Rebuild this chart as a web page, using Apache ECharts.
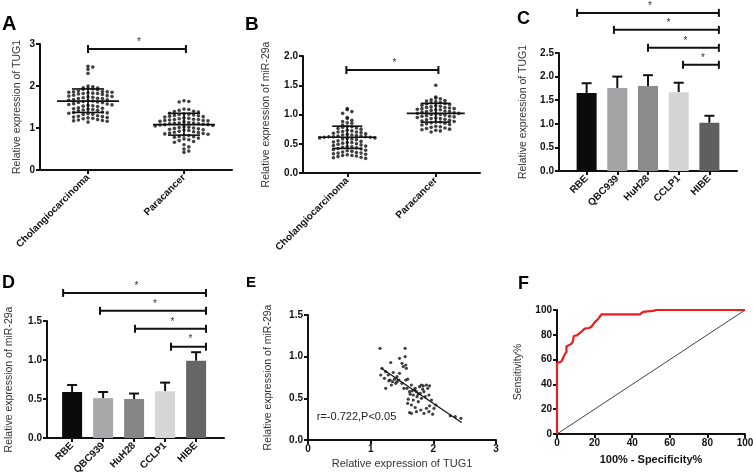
<!DOCTYPE html>
<html><head><meta charset="utf-8">
<script src="https://cdn.jsdelivr.net/npm/echarts@6/dist/echarts.min.js"></script>
<style>html,body{margin:0;padding:0;background:#fff}#c{width:753px;height:472px}</style>
</head><body><div id="c"></div>
<script>
// ---------- DATA ----------
const groupNames = ['Cholangiocarcinoma', 'Paracancer'];
const cellLines = ['RBE', 'QBC939', 'HuH28', 'CCLP1', 'HIBE'];

// Panel A: TUG1 expression (dot plot)
const aChol = [2.47,2.45,2.40,2.30,2.00,1.98,1.96,1.95,1.94,1.93,1.92,1.91,1.88,1.87,1.86,1.86,1.85,1.85,1.84,1.83,1.82,1.82,1.81,1.80,1.78,1.77,1.76,1.75,1.74,1.73,1.72,1.71,1.70,1.70,1.68,1.67,1.66,1.65,1.64,1.63,1.62,1.61,1.60,1.58,1.57,1.56,1.55,1.54,1.53,1.52,1.51,1.48,1.47,1.46,1.45,1.44,1.43,1.42,1.41,1.38,1.37,1.36,1.35,1.34,1.33,1.32,1.29,1.28,1.27,1.26,1.25,1.24,1.23,1.22,1.20,1.19,1.18,1.17,1.16,1.14];
const aPara = [1.65,1.63,1.62,1.45,1.44,1.42,1.40,1.39,1.38,1.35,1.34,1.33,1.32,1.31,1.30,1.29,1.28,1.27,1.26,1.24,1.23,1.22,1.21,1.20,1.20,1.19,1.18,1.18,1.17,1.16,1.15,1.13,1.12,1.12,1.11,1.10,1.10,1.09,1.08,1.08,1.07,1.06,1.05,1.03,1.02,1.01,1.00,0.99,0.98,0.97,0.96,0.95,0.94,0.92,0.91,0.90,0.89,0.88,0.87,0.86,0.85,0.83,0.82,0.80,0.79,0.78,0.76,0.74,0.72,0.70,0.68,0.66,0.60,0.55,0.50,0.45,0.42];
const aMean = [1.64, 1.08];
const aSdLo = [1.37, 0.83];
const aSdHi = [1.93, 1.35];

// Panel B: miR-29a expression (dot plot)
const bChol = [1.10,1.08,1.05,1.02,0.95,0.93,0.90,0.88,0.86,0.85,0.82,0.80,0.79,0.78,0.77,0.76,0.75,0.73,0.72,0.71,0.70,0.70,0.69,0.68,0.67,0.66,0.65,0.65,0.64,0.63,0.63,0.62,0.62,0.62,0.61,0.61,0.60,0.60,0.59,0.58,0.58,0.57,0.55,0.54,0.53,0.52,0.52,0.51,0.50,0.49,0.48,0.47,0.46,0.45,0.45,0.44,0.43,0.42,0.41,0.40,0.39,0.38,0.37,0.36,0.35,0.34,0.34,0.33,0.32,0.31,0.30,0.30,0.29,0.28,0.27,0.26,0.25];
const bPara = [1.50,1.30,1.28,1.27,1.25,1.24,1.23,1.22,1.21,1.20,1.19,1.18,1.17,1.16,1.15,1.14,1.13,1.12,1.12,1.11,1.10,1.10,1.09,1.08,1.08,1.07,1.06,1.05,1.05,1.04,1.03,1.02,1.02,1.01,1.00,1.00,0.99,0.98,0.97,0.97,0.96,0.95,0.94,0.93,0.93,0.92,0.91,0.90,0.89,0.88,0.87,0.87,0.86,0.85,0.84,0.83,0.82,0.80,0.79,0.78,0.77,0.76,0.75,0.74,0.73,0.72,0.70];
const bMean = [0.61, 1.02];
const bSdLo = [0.42, 0.87];
const bSdHi = [0.80, 1.19];

// Panel C: TUG1 in cell lines
const cMean = [1.65, 1.76, 1.80, 1.67, 1.02];
const cErr  = [1.86, 2.00, 2.03, 1.87, 1.17];
const cBrFrom = [-0.31, 0.89, 2.00, 3.14];
const cBrTo   = [4.31, 4.31, 4.31, 4.31];
const cBrY    = [3.35, 2.99, 2.61, 2.25];

// Panel D: miR-29a in cell lines
const dMean = [0.59, 0.51, 0.50, 0.60, 0.99];
const dErr  = [0.68, 0.59, 0.57, 0.71, 1.10];
const dBrFrom = [-0.29, 0.90, 2.03, 3.19];
const dBrTo   = [4.32, 4.32, 4.32, 4.32];
const dBrY    = [1.86, 1.63, 1.40, 1.17];

// Panel E: correlation TUG1 vs miR-29a
const eX = [1.15,1.55,1.55,1.46,1.32,1.50,1.56,1.57,1.18,1.16,1.24,1.28,1.22,1.31,1.38,1.42,1.46,1.35,1.24,1.33,1.42,1.50,1.56,1.59,1.53,1.45,1.40,1.29,1.36,1.52,1.65,1.71,1.62,1.68,1.73,1.78,1.81,1.84,1.89,1.94,1.91,1.85,1.79,1.74,1.68,1.60,1.59,1.65,1.71,1.76,1.81,1.87,1.93,1.97,1.94,1.89,1.80,1.73,1.65,1.62,1.85,1.93,1.99,2.01,2.04,2.27,2.35,2.44,1.70,1.76,1.83,1.63,1.58,1.66];
const eY = [1.10,1.10,1.00,0.98,0.93,0.92,0.90,0.86,0.86,0.78,0.82,0.78,0.74,0.72,0.73,0.76,0.80,0.70,0.62,0.66,0.70,0.68,0.72,0.73,0.62,0.72,0.68,0.71,0.81,0.88,0.66,0.62,0.58,0.54,0.58,0.64,0.66,0.65,0.66,0.65,0.62,0.58,0.56,0.52,0.48,0.49,0.44,0.42,0.39,0.46,0.50,0.52,0.54,0.48,0.41,0.38,0.36,0.34,0.32,0.33,0.32,0.34,0.31,0.38,0.42,0.29,0.28,0.26,0.60,0.55,0.61,0.55,0.62,0.59];
const eFitX = [1.17, 2.45];
const eFitY = [0.86, 0.21];

// Panel F: ROC
const rocFpr = [0,0,1,2.3,3.2,4,5,5,7.6,8.5,8.9,10.6,13,14.7,17,18.3,20,22,23.6,44,45.8,51,53,100];
const rocTpr = [0,57,57,58.5,61,64,66,70.5,72.7,75,79,79.5,82.5,85,85.5,86.5,90,93,96.5,96.5,98.5,99.3,100,100];

// ---------- STYLE ----------
const FONT = 'Liberation Sans, Arial, sans-serif';
const barColorsC = ['#0b0b0b', '#a3a3a6', '#8b8b8b', '#d4d4d4', '#5f5f5f'];
const barColorsD = ['#0b0b0b', '#a8a8ab', '#868686', '#d6d6d6', '#666666'];

// deterministic beeswarm layout from values
function swarm(vals, center, bin, step) {
  const sorted = vals.slice().sort((a, b) => b - a);
  const counts = {};
  return sorted.map(v => {
    const b = Math.round(v / bin);
    const idx = counts[b] = (counts[b] === undefined ? 0 : counts[b] + 1);
    const off = idx === 0 ? 0 : (idx % 2 ? Math.ceil(idx / 2) : -idx / 2);
    return [center + off * step, v];
  });
}
function zip(a, b) { return a.map((v, i) => [v, b[i]]); }

function meanSdRender(halfMean, halfSd) {
  return function (params, api) {
    const x = api.value(0);
    const pm = api.coord([x, api.value(1)]);
    const pl = api.coord([x, api.value(2)]);
    const ph = api.coord([x, api.value(3)]);
    const st = { stroke: '#111', lineWidth: 1.6 };
    return { type: 'group', children: [
      { type: 'line', shape: { x1: pm[0] - halfMean, y1: pm[1], x2: pm[0] + halfMean, y2: pm[1] }, style: st },
      { type: 'line', shape: { x1: ph[0] - halfSd, y1: ph[1], x2: ph[0] + halfSd, y2: ph[1] }, style: st },
      { type: 'line', shape: { x1: pl[0] - halfSd, y1: pl[1], x2: pl[0] + halfSd, y2: pl[1] }, style: st },
      { type: 'line', shape: { x1: pl[0], y1: pl[1], x2: ph[0], y2: ph[1] }, style: st }
    ]};
  };
}
function bracketRender(params, api) {
  const y = api.value(2);
  const a = api.coord([api.value(0), y]);
  const b = api.coord([api.value(1), y]);
  const st = { stroke: '#111', lineWidth: 2 };
  return { type: 'group', children: [
    { type: 'line', shape: { x1: a[0], y1: a[1], x2: b[0], y2: b[1] }, style: st },
    { type: 'line', shape: { x1: a[0], y1: a[1] - 4, x2: a[0], y2: a[1] + 4 }, style: st },
    { type: 'line', shape: { x1: b[0], y1: b[1] - 4, x2: b[0], y2: b[1] + 4 }, style: st },
    { type: 'text', style: { text: '*', x: (a[0] + b[0]) / 2 + 2, y: a[1] - 2, fill: '#333', font: '10px ' + FONT, align: 'center', verticalAlign: 'bottom' } }
  ]};
}
function errRender(params, api) {
  const x = api.value(0);
  const p0 = api.coord([x, api.value(1)]);
  const p1 = api.coord([x, api.value(2)]);
  const st = { stroke: '#111', lineWidth: 2 };
  return { type: 'group', children: [
    { type: 'line', shape: { x1: p0[0], y1: p0[1], x2: p1[0], y2: p1[1] }, style: st },
    { type: 'line', shape: { x1: p1[0] - 5, y1: p1[1], x2: p1[0] + 5, y2: p1[1] }, style: st }
  ]};
}

const axLine = { show: true, onZero: false, lineStyle: { color: '#111', width: 2 } };
const axTick = { show: true, length: 4, lineStyle: { color: '#111', width: 2 } };
const lblBold = { color: '#111', fontSize: 10, fontWeight: 'bold', fontFamily: FONT, margin: 5 };
const nameStyle = { color: '#333', fontSize: 10.5, fontFamily: FONT };

function yAx(gi, min, max, interval, name, gap, dec) {
  return {
    type: 'value', gridIndex: gi, min, max, interval,
    name, nameLocation: 'middle', nameGap: gap, nameTextStyle: nameStyle,
    axisLine: axLine, axisTick: axTick, splitLine: { show: false },
    axisLabel: Object.assign({}, lblBold, { formatter: v => v.toFixed(dec) })
  };
}
function xCat(gi, min, max, ticks, names) {
  return {
    type: 'value', gridIndex: gi, min, max,
    axisLine: axLine, splitLine: { show: false },
    axisTick: Object.assign({}, axTick, { customValues: ticks }),
    axisLabel: Object.assign({}, lblBold, { rotate: 45, margin: 6, customValues: ticks,
      formatter: v => names[ticks.indexOf(v)] || '' })
  };
}

const catTicksAB = [0.5, 1.5];
const catTicksCD = [0, 1, 2, 3, 4];

const option = {
  animation: false,
  textStyle: { fontFamily: FONT },
  grid: [
    { left: 40, top: 44, width: 192, height: 126, outerBoundsMode: 'none' },
    { left: 303, top: 56, width: 177, height: 117, outerBoundsMode: 'none' },
    { left: 559, top: 53, width: 178, height: 118, outerBoundsMode: 'none' },
    { left: 47, top: 321, width: 177, height: 117, outerBoundsMode: 'none' },
    { left: 308, top: 315, width: 188, height: 125, outerBoundsMode: 'none' },
    { left: 557, top: 310, width: 188, height: 124, outerBoundsMode: 'none' }
  ],
  xAxis: [
    xCat(0, 0, 2, catTicksAB, groupNames),
    xCat(1, 0, 2, catTicksAB, groupNames),
    xCat(2, -0.9, 4.9, catTicksCD, cellLines),
    xCat(3, -0.81, 4.9, catTicksCD, cellLines),
    { type: 'value', gridIndex: 4, min: 0, max: 3, interval: 1,
      name: 'Relative expression of TUG1', nameLocation: 'middle', nameGap: 18,
      nameTextStyle: Object.assign({}, nameStyle, { fontSize: 11 }),
      axisLine: axLine, axisTick: axTick, splitLine: { show: false },
      axisLabel: Object.assign({}, lblBold, { margin: 4 }) },
    { type: 'value', gridIndex: 5, min: 0, max: 100, interval: 20,
      name: '100% - Specificity%', nameLocation: 'middle', nameGap: 20,
      nameTextStyle: { color: '#111', fontSize: 11, fontWeight: 'bold', fontFamily: FONT },
      axisLine: axLine, axisTick: axTick, splitLine: { show: false },
      axisLabel: Object.assign({}, lblBold, { margin: 4 }) }
  ],
  yAxis: [
    yAx(0, 0, 3, 1, 'Relative expression of TUG1', 17, 0),
    yAx(1, 0, 2, 0.5, 'Relative expression of miR-29a', 31, 1),
    yAx(2, 0, 2.5, 0.5, 'Relative expression of TUG1', 30, 1),
    yAx(3, 0, 1.5, 0.5, 'Relative expression of miR-29a', 32, 1),
    yAx(4, 0, 1.5, 0.5, 'Relative expression of miR-29a', 34, 1),
    yAx(5, 0, 100, 20, 'Sensitivity%', 33, 0)
  ],
  series: [
    // A
    { type: 'scatter', xAxisIndex: 0, yAxisIndex: 0, symbolSize: 3.6, itemStyle: { color: '#111' },
      data: swarm(aChol, 0.5, 0.1, 0.05).concat(swarm(aPara, 1.5, 0.1, 0.05)) },
    { type: 'custom', xAxisIndex: 0, yAxisIndex: 0, z: 5, renderItem: meanSdRender(31, 16),
      data: catTicksAB.map((x, i) => [x, aMean[i], aSdLo[i], aSdHi[i]]) },
    { type: 'custom', xAxisIndex: 0, yAxisIndex: 0, renderItem: bracketRender, data: [[0.5, 1.52, 2.88]] },
    // B
    { type: 'scatter', xAxisIndex: 1, yAxisIndex: 1, symbolSize: 3.6, itemStyle: { color: '#111' },
      data: swarm(bChol, 0.5, 0.07, 0.052).concat(swarm(bPara, 1.5, 0.07, 0.052)) },
    { type: 'custom', xAxisIndex: 1, yAxisIndex: 1, z: 5, renderItem: meanSdRender(29, 15),
      data: catTicksAB.map((x, i) => [x, bMean[i], bSdLo[i], bSdHi[i]]) },
    { type: 'custom', xAxisIndex: 1, yAxisIndex: 1, renderItem: bracketRender, data: [[0.49, 1.53, 1.76]] },
    // C
    { type: 'bar', xAxisIndex: 2, yAxisIndex: 2, barWidth: 20,
      data: cMean.map((v, i) => ({ value: [i, v], itemStyle: { color: barColorsC[i] } })) },
    { type: 'custom', xAxisIndex: 2, yAxisIndex: 2, z: 1, renderItem: errRender,
      data: cMean.map((v, i) => [i, v, cErr[i]]) },
    { type: 'custom', xAxisIndex: 2, yAxisIndex: 2, renderItem: bracketRender,
      data: cBrY.map((y, i) => [cBrFrom[i], cBrTo[i], y]) },
    // D
    { type: 'bar', xAxisIndex: 3, yAxisIndex: 3, barWidth: 20,
      data: dMean.map((v, i) => ({ value: [i, v], itemStyle: { color: barColorsD[i] } })) },
    { type: 'custom', xAxisIndex: 3, yAxisIndex: 3, z: 1, renderItem: errRender,
      data: dMean.map((v, i) => [i, v, dErr[i]]) },
    { type: 'custom', xAxisIndex: 3, yAxisIndex: 3, renderItem: bracketRender,
      data: dBrY.map((y, i) => [dBrFrom[i], dBrTo[i], y]) },
    // E
    { type: 'scatter', xAxisIndex: 4, yAxisIndex: 4, symbolSize: 3.2, itemStyle: { color: '#111' },
      data: zip(eX, eY) },
    { type: 'line', xAxisIndex: 4, yAxisIndex: 4, symbol: 'none', lineStyle: { color: '#111', width: 1.2 },
      data: zip(eFitX, eFitY) },
    { type: 'custom', xAxisIndex: 4, yAxisIndex: 4,
      renderItem: (p, api) => { const c = api.coord([api.value(0), api.value(1)]);
        return { type: 'text', style: { text: 'r=-0.722,P<0.05', x: c[0], y: c[1], fill: '#222', font: '11px ' + FONT, align: 'left', verticalAlign: 'middle' } }; },
      data: [[0.14, 0.28]] },
    // F
    { type: 'line', xAxisIndex: 5, yAxisIndex: 5, symbol: 'none', lineStyle: { color: '#111', width: 0.8 },
      data: [[0, 0], [100, 100]] },
    { type: 'line', xAxisIndex: 5, yAxisIndex: 5, symbol: 'none', z: 3, lineStyle: { color: '#ee1c1c', width: 2.2 },
      data: zip(rocFpr, rocTpr) }
  ],
  graphic: [
    { type: 'text', left: 2, top: 14, style: { text: 'A', font: 'bold 20px ' + FONT, fill: '#000' } },
    { type: 'text', left: 245, top: 15, style: { text: 'B', font: 'bold 19px ' + FONT, fill: '#000' } },
    { type: 'text', left: 517, top: 10, style: { text: 'C', font: 'bold 18px ' + FONT, fill: '#000' } },
    { type: 'text', left: 2, top: 274, style: { text: 'D', font: 'bold 18px ' + FONT, fill: '#000' } },
    { type: 'text', left: 246, top: 275, style: { text: 'E', font: 'bold 15px ' + FONT, fill: '#000' } },
    { type: 'text', left: 518, top: 275, style: { text: 'F', font: 'bold 18px ' + FONT, fill: '#000' } }
  ]
};
const chart = echarts.init(document.getElementById('c'));
chart.setOption(option);
</script></body></html>
